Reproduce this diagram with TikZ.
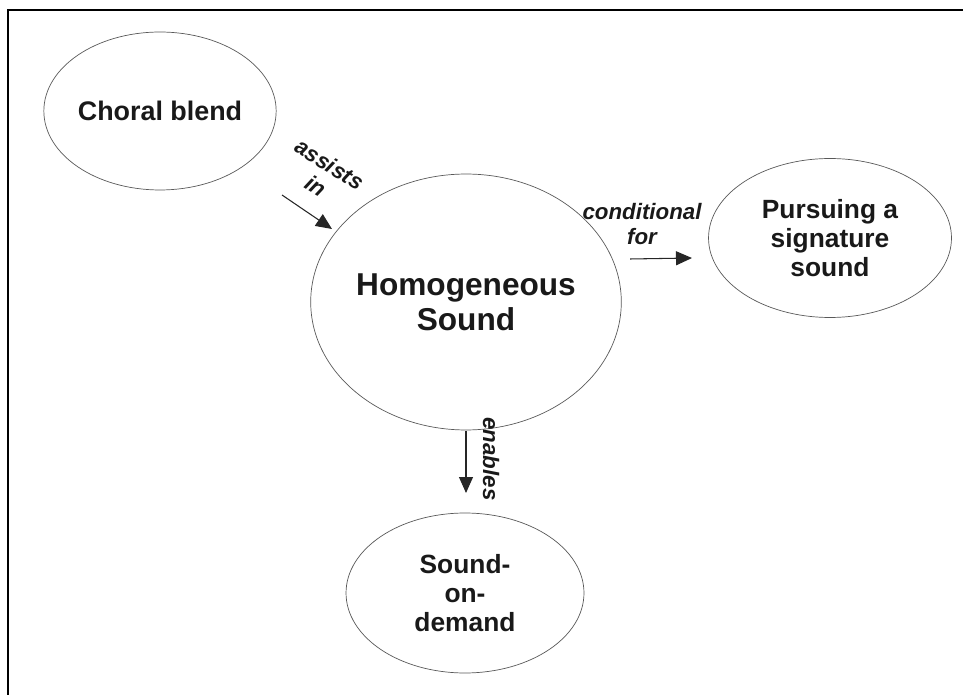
\documentclass[tikz,border=0pt]{standalone}
\usepackage{fontspec}
\setmainfont{Liberation Sans}
\usetikzlibrary{positioning,shapes.geometric,arrows.meta}
\tikzset {
    concept/.style={
        draw=black!65,
        thin,
        ellipse, % oval bubble
        align=center,
        text=black!90,
        font=\bfseries\fontsize{15}{16.5}\selectfont,
        inner sep=0pt,
    },
    relation/.style={
        align=center,
        text=black!90,
        font=\bfseries\itshape\fontsize{12.7}{14.5}\selectfont,
        inner sep=0pt,
    },
    link/.style={
        draw=black!85,
        semithick,
        -{Triangle[length=3.2mm,width=2.8mm]},
    },
}

\begin{document}
\begin{tikzpicture}[x=0.02cm, y=-0.02cm]
        \useasboundingbox (0,0) rectangle (963,695);
        \draw[line width=1.3pt] (8,695) -- (8,10) -- (963,10);

        \node[concept, minimum width=4.54cm, minimum height=3.16cm, font=\bfseries\fontsize{15.3}{17}\selectfont] at (160,111) (choral) {Choral blend};
        \node[concept, minimum width=4.8cm, minimum height=5.12cm, font=\bfseries\fontsize{18}{20}\selectfont] at (466,302) (homog) {Homogeneous\\Sound};
        \node[concept, minimum width=4.86cm, minimum height=3.18cm] at (830,238) (pursue) {Pursuing a\\signature\\sound};
        \node[concept, minimum width=4.76cm, minimum height=3.2cm] at (465,593) (demand) {Sound-\\on-\\demand};

        \node[relation, rotate=-32] at (323,175) (assists) {assists\\in};
        \node[relation] at (642,224) (cond) {conditional\\for};
        \node[relation, rotate=-90] at (491,459) (enables) {enables};

        \coordinate (a1) at (282,195);
        \coordinate (a2) at (332,229);
        \coordinate (c1) at (630,259);
        \coordinate (c2) at (692,258);
        \coordinate (e1) at (466,431);
        \coordinate (e2) at (466,493);

        \draw[link] (a1) -- (a2);
        \draw[link] (c1) -- (c2);
        \draw[link] (e1) -- (e2);
    \end{tikzpicture}
\end{document}
